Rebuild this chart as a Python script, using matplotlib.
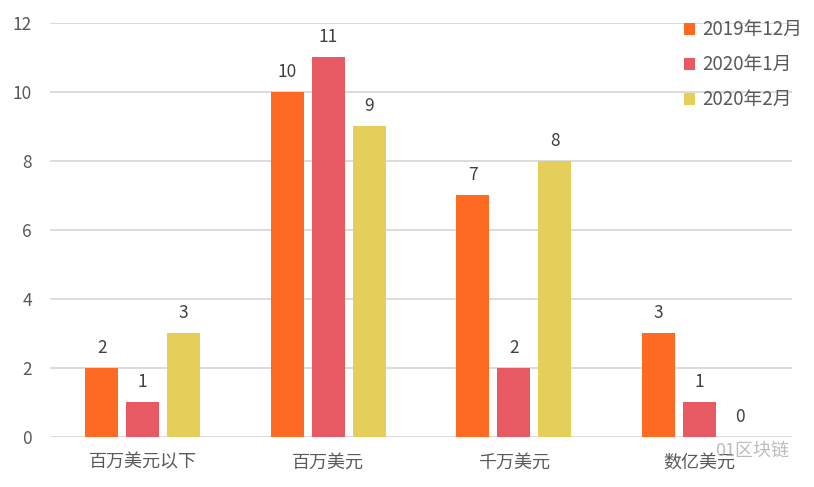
import matplotlib.pyplot as plt
import numpy as np

plt.rcParams['font.family'] = ['Noto Sans CJK SC', 'DejaVu Sans']

# data
categories = ['百万美元以下', '百万美元', '千万美元', '数亿美元']
series_names = ['2019年12月', '2020年1月', '2020年2月']
dec_2019 = [2, 10, 7, 3]
jan_2020 = [1, 11, 2, 1]
feb_2020 = [3, 9, 8, 0]
colors = ['#FF6A23', '#E85A63', '#E5CF5A']

fig = plt.figure(figsize=(8.14, 4.87), dpi=100)
ax = fig.add_axes([0.0614, 0.1027, 0.9116, 0.8501])

x = np.arange(len(categories))
width = 0.178
offset = 0.221
text_col = '#595959'

for i, (vals, name, col) in enumerate(zip([dec_2019, jan_2020, feb_2020], series_names, colors)):
    pos = x + (i - 1) * offset
    bars = ax.bar(pos, vals, width, color=col, label=name, zorder=3)
    for b, v in zip(bars, vals):
        ax.annotate(str(v), (b.get_x() + b.get_width() / 2, v), xytext=(0, 8),
                    textcoords='offset points', ha='center', va='bottom',
                    fontsize=12.5, color='#404040')

ax.set_xlim(-0.5, 3.5)
ax.set_ylim(0, 12)
ax.set_yticks(range(0, 13, 2))
ax.set_xticks(x)
ax.set_xticklabels(categories)
ax.tick_params(axis='both', length=0, labelsize=12.5, colors=text_col)
ax.tick_params(axis='x', labelsize=13, pad=12)
ax.tick_params(axis='y', pad=13)
ax.grid(axis='y', color='#D9D9D9', linewidth=1.3, zorder=0)
for s in ax.spines.values():
    s.set_visible(False)

leg = ax.legend(loc='upper right', bbox_to_anchor=(1.036, 1.05), frameon=False,
                fontsize=13.5, handlelength=0.6, handleheight=0.6,
                handletextpad=0.35, labelspacing=0.75)
for t in leg.get_texts():
    t.set_color(text_col)

# watermark
fig.text(0.97, 0.075, '01区块链', ha='right', va='center', fontsize=13,
         color='#A0A0A0', alpha=0.7)

fig.savefig('out.png', dpi=100)
